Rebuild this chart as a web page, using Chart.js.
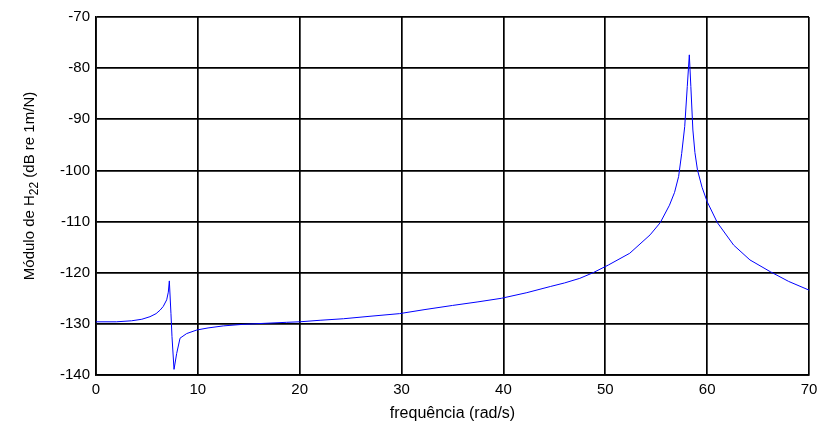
<!DOCTYPE html>
<html>
<head>
<meta charset="utf-8">
<script src="https://cdn.jsdelivr.net/npm/chart.js@4/dist/chart.umd.min.js"></script>
<style>
  html, body { margin: 0; padding: 0; background: #fff; }
  #wrap { width: 827px; height: 423px; position: relative; }
</style>
</head>
<body>
<div id="wrap"><canvas id="frfChart"></canvas></div>
<script>
// frequency (rad/s) and magnitude of H22 (dB re 1m/N)
var freq = [0, 2, 3.5, 4.5, 5.3, 5.9, 6.3, 6.6, 6.94, 7.1, 7.2, 7.36, 7.46, 7.66, 7.92, 8.25, 8.9, 9.9, 11, 12.5, 14.4, 16.5, 18.7, 20, 22, 24.3, 27, 29.8, 32.3, 35, 37.5, 39.8, 42.3, 44.6, 46, 47.5, 48.8, 50.3, 52.4, 54.4, 55.4, 56.3, 56.8, 57.2, 57.5, 57.8, 58.05, 58.25, 58.4, 58.6, 58.8, 59.05, 59.5, 60.0, 61.0, 62.6, 64.2, 66.2, 68, 70];
var mag = [-129.6, -129.6, -129.4, -129.1, -128.6, -128.0, -127.3, -126.6, -125.3, -123.8, -121.6, -128.0, -132.5, -138.9, -135.8, -132.8, -131.9, -131.2, -130.8, -130.4, -130.1, -129.9, -129.7, -129.6, -129.3, -129.0, -128.5, -128.0, -127.2, -126.4, -125.7, -125.0, -123.9, -122.7, -122.0, -121.1, -120.0, -118.5, -116.2, -112.6, -110.2, -106.8, -104.3, -101.2, -96.7, -91.4, -83.6, -77.4, -83.6, -92.1, -96.5, -99.9, -103.3, -106.1, -110.2, -114.6, -117.5, -119.8, -121.7, -123.4];

var xTicks = [0, 10, 20, 30, 40, 50, 60, 70];
var yTicks = [-70, -80, -90, -100, -110, -120, -130, -140];

var fontFam = "'Liberation Sans', Arial, sans-serif";

let points = [];
freq.forEach(function (f, i) {
    points.push({ x: f, y: mag[i] });
});

// y axis title with a subscript, drawn by hand
const yTitlePlugin = {
    id: 'yTitle',
    afterDraw: function (chart) {
        const ctx = chart.ctx;
        const area = chart.chartArea;
        const cy = (area.top + area.bottom) / 2 - 10;
        ctx.save();
        ctx.translate(29, cy);
        ctx.rotate(-Math.PI / 2);
        ctx.fillStyle = '#000';
        ctx.textBaseline = 'alphabetic';
        const big = '15px ' + fontFam;
        const small = '12px ' + fontFam;
        const a = 'Módulo de H', s = '22', b = ' (dB re 1m/N)';
        ctx.font = big;
        const wa = ctx.measureText(a).width, wb = ctx.measureText(b).width;
        ctx.font = small;
        const ws = ctx.measureText(s).width;
        let x = -(wa + ws + wb) / 2;
        const base = 5;
        ctx.font = big;
        ctx.fillText(a, x, base);
        x += wa;
        ctx.font = small;
        ctx.fillText(s, x, base + 4);
        x += ws;
        ctx.font = big;
        ctx.fillText(b, x, base);
        ctx.restore();
    }
};

const chartElement = document.getElementById('frfChart').getContext('2d');
const chartObject = new Chart(chartElement, {
    type: 'line',
    data: {
        datasets: [{
            label: 'H22',
            data: points,
            borderColor: '#0000ff',
            borderWidth: 1,
            pointRadius: 0,
            tension: 0,
            fill: false
        }]
    },
    options: {
        responsive: true,
        maintainAspectRatio: false,
        animation: false,
        layout: { padding: { top: 17, right: 18, left: 0, bottom: 0 } },
        plugins: {
            legend: { display: false },
            tooltip: { enabled: false }
        },
        scales: {
            x: {
                type: 'linear',
                min: 0,
                max: 70,
                afterBuildTicks: function (scale) {
                    scale.ticks = xTicks.map(function (v) { return { value: v }; });
                },
                afterFit: function (scale) { scale.height = 48; },
                grid: { color: '#000', lineWidth: 1.7, drawTicks: false },
                border: { color: '#000', width: 1.7 },
                ticks: { color: '#000', padding: 6, maxRotation: 0, font: { size: 15, family: fontFam } },
                title: {
                    display: true,
                    text: 'frequência (rad/s)',
                    color: '#000',
                    padding: { top: 2, bottom: 0 },
                    font: { size: 16, family: fontFam }
                }
            },
            y: {
                type: 'linear',
                min: -140,
                max: -70,
                afterBuildTicks: function (scale) {
                    scale.ticks = yTicks.map(function (v) { return { value: v }; });
                },
                afterFit: function (scale) { scale.width = 96; },
                grid: { color: '#000', lineWidth: 1.7, drawTicks: false },
                border: { color: '#000', width: 1.7 },
                ticks: { color: '#000', padding: 6, font: { size: 15, family: fontFam } }
            }
        }
    },
    plugins: [yTitlePlugin]
});
chartObject.update();
</script>
</body>
</html>
